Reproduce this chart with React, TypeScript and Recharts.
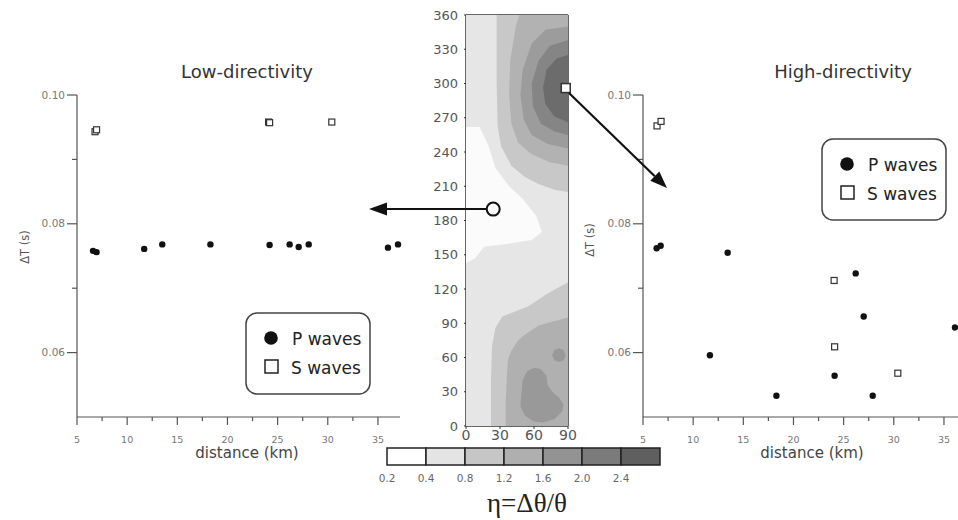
import React from "react";
import { Bar, BarChart, Scatter, ScatterChart, XAxis, YAxis } from "recharts";

// ---- scatter panels: [distance km, ΔT s]
const lowP = [
  [6.6, 0.0758], [6.95, 0.0756], [11.7, 0.0761], [13.5, 0.0768], [18.3, 0.0768],
  [24.2, 0.0767], [26.2, 0.0768], [27.1, 0.0764], [28.1, 0.0768], [36.0, 0.0763], [37.0, 0.0768],
];
const lowS = [[6.8, 0.0943], [6.95, 0.0946], [24.1, 0.0958], [24.2, 0.0957], [30.4, 0.0958]];
const highP = [
  [6.36, 0.0762], [6.76, 0.0766], [11.67, 0.0596], [13.44, 0.0755], [18.3, 0.0533],
  [24.1, 0.0564], [26.2, 0.0723], [27.0, 0.0656], [27.9, 0.0533], [36.1, 0.0639],
];
const highS = [[6.4, 0.0952], [6.8, 0.0959], [24.05, 0.0712], [24.1, 0.0609], [30.4, 0.0568]];

const distanceTicks = [5, 7.5, 10, 12.5, 15, 17.5, 20, 22.5, 25, 27.5, 30, 32.5, 35];
const dtTicks = [0.06, 0.07, 0.08, 0.09, 0.1];

// ---- contour map: [rake-ish angle 0..90, azimuth 0..360]
const bgLevel = [[-5, -10], [95, -10], [95, 370], [-5, 370]];
const whiteBay = [
  [-5, 262], [12, 262], [20, 245], [26, 226], [38, 210], [50, 199], [62, 184], [67, 170],
  [58, 163], [40, 160], [16, 157], [8, 147], [-5, 140],
];
const upRing1 = [[27, 370], [27, 300], [28, 262], [31, 245], [40, 228], [52, 218], [64, 212], [78, 207], [90, 205], [100, 205], [100, 370]];
const upRing2 = [[50, 370], [44, 350], [39, 320], [38, 290], [40, 265], [46, 248], [58, 238], [74, 231], [90, 228], [100, 228], [100, 370]];
const upRing3 = [[90, 350], [70, 347], [58, 335], [50, 312], [48, 290], [51, 268], [58, 255], [72, 247], [90, 243], [100, 243], [100, 350]];
const upRing4 = [[90, 338], [74, 333], [64, 320], [58, 300], [59, 280], [66, 265], [78, 258], [90, 255], [100, 255], [100, 338]];
const upCore = [[90, 325], [80, 322], [71, 312], [68, 296], [70, 282], [78, 271], [90, 266], [100, 266], [100, 325]];
const lowRing1 = [[100, 128], [90, 126], [72, 116], [55, 105], [40, 99], [32, 96], [26, 86], [23, 70], [22, 40], [22, -10], [100, -10]];
const lowRing2 = [[100, 96], [90, 95], [75, 91], [64, 88], [52, 80], [46, 75], [40, 66], [37, 58], [36, 43], [35, 20], [35, -10], [100, -10]];
const lowBlob = [[60, 51], [54, 48], [50, 40], [49, 30], [48, 17], [52, 9], [60, 4], [68, 3], [78, 6], [85, 13], [86, 19], [82, 25], [76, 30], [72, 36], [71, 44], [66, 50]];
const lowSpot = [[82, 68], [86, 66.5], [88, 62], [86, 57.5], [82, 56], [78, 57.5], [76, 62], [78, 66.5]];
const lowCase = [[24, 190]];
const highCase = [[88, 296]];
const angleTicks = [0, 30, 60, 90];
const azimuthTicks = [0, 30, 60, 90, 120, 150, 180, 210, 240, 270, 300, 330, 360];

// ---- colour bar
const etaLabels = ["0.2", "0.4", "0.8", "1.2", "1.6", "2.0", "2.4"];
const etaColors = ["#ffffff", "#e4e4e4", "#c6c6c6", "#afafaf", "#939393", "#7b7b7b", "#5f5f5f"];

const pts = (arr: number[][]) => arr.map(([x, y]) => ({ x, y }));

const contourBands = [
  { pts: bgLevel, fill: "#e6e6e6" },
  { pts: whiteBay, fill: "#fbfbfb" },
  { pts: upRing1, fill: "#c8c8c8" },
  { pts: upRing2, fill: "#b2b2b2" },
  { pts: upRing3, fill: "#9c9c9c" },
  { pts: upRing4, fill: "#858585" },
  { pts: upCore, fill: "#6c6c6c" },
  { pts: lowRing1, fill: "#c8c8c8" },
  { pts: lowRing2, fill: "#b0b0b0" },
  { pts: lowBlob, fill: "#999999" },
  { pts: lowSpot, fill: "#999999" },
];

const noDot = () => <g />;

function DistTick(props: any) {
  const { x, y, payload } = props;
  const v = payload.value;
  const major = v % 5 === 0;
  return (
    <g>
      <line x1={x} x2={x} y1={y} y2={y + (major ? 8 : 4)} stroke="#555" strokeWidth={1.2} />
      {major && (
        <text x={x} y={y + 26} textAnchor="middle" fontSize={9.5} fill="#777">
          {v}
        </text>
      )}
    </g>
  );
}

function DtTick(props: any) {
  const { x, y, payload } = props;
  const v = payload.value;
  const major = Math.round(v * 100) % 2 === 0;
  return (
    <g>
      <line x1={x - (major ? 10 : 5)} x2={x} y1={y} y2={y} stroke="#555" strokeWidth={1.2} />
      {major && (
        <text x={x - 12} y={y} dy={3.5} textAnchor="end" fontSize={10.5} fill="#777">
          {v.toFixed(2)}
        </text>
      )}
    </g>
  );
}

function DirectivityPanel({ left, width, marginLeft, marginRight, xMax, p, s }: any) {
  return (
    <div style={{ position: "absolute", left, top: 0 }}>
      <ScatterChart
        width={width}
        height={480}
        margin={{ top: 95, right: marginRight, bottom: 23, left: marginLeft }}
      >
        <XAxis
          type="number"
          dataKey="x"
          domain={[5, xMax]}
          ticks={distanceTicks}
          interval={0}
          height={40}
          tickSize={0}
          tickMargin={0}
          tickLine={false}
          tick={DistTick}
          axisLine={{ stroke: "#555", strokeWidth: 1.2 }}
        />
        <YAxis
          type="number"
          dataKey="y"
          domain={[0.05, 0.1]}
          ticks={dtTicks}
          interval={0}
          width={40}
          tickSize={0}
          tickMargin={0}
          tickLine={false}
          tick={DtTick}
          axisLine={{ stroke: "#555", strokeWidth: 1.2 }}
        />
        <Scatter
          data={pts(s)}
          isAnimationActive={false}
          shape={(d: any) => (
            <rect x={d.cx - 3} y={d.cy - 3} width={6} height={6} fill="#fff" stroke="#333" strokeWidth={1.2} />
          )}
        />
        <Scatter
          data={pts(p)}
          isAnimationActive={false}
          shape={(d: any) => <circle cx={d.cx} cy={d.cy} r={3.2} fill="#111" />}
        />
      </ScatterChart>
    </div>
  );
}

function ContourPanel() {
  return (
    <div style={{ position: "absolute", left: 420, top: 0 }}>
      <ScatterChart width={175} height={460} margin={{ top: 10, right: 17, bottom: 9, left: 6 }}>
        {contourBands.map((b, i) => (
          <Scatter
            key={i}
            xAxisId="b"
            yAxisId="l"
            data={pts(b.pts)}
            line={{ fill: b.fill, stroke: "none" }}
            lineType="joint"
            lineJointType="linearClosed"
            shape={noDot}
            isAnimationActive={false}
          />
        ))}
        <Scatter
          xAxisId="t"
          yAxisId="r"
          data={pts(lowCase)}
          isAnimationActive={false}
          shape={(d: any) => <circle cx={d.cx} cy={d.cy} r={6.5} fill="none" stroke="#111" strokeWidth={2} />}
        />
        <Scatter
          xAxisId="t"
          yAxisId="r"
          data={pts(highCase)}
          isAnimationActive={false}
          shape={(d: any) => (
            <rect x={d.cx - 4.5} y={d.cy - 4.5} width={9} height={9} fill="#fff" stroke="#333" strokeWidth={1.5} />
          )}
        />
        <XAxis
          xAxisId="b"
          type="number"
          dataKey="x"
          domain={[0, 90]}
          allowDataOverflow
          ticks={angleTicks}
          interval={0}
          height={25}
          tickSize={3}
          tickMargin={1}
          tick={{ fontSize: 14, fill: "#555" }}
          stroke="#333"
          axisLine={{ stroke: "#333", strokeWidth: 1.5 }}
        />
        <XAxis
          xAxisId="t"
          orientation="top"
          type="number"
          dataKey="x"
          domain={[0, 90]}
          height={5}
          tick={false}
          tickLine={false}
          axisLine={{ stroke: "#333", strokeWidth: 1.5 }}
        />
        <YAxis
          yAxisId="l"
          type="number"
          dataKey="y"
          domain={[0, 360]}
          allowDataOverflow
          ticks={azimuthTicks}
          interval={0}
          width={40}
          tickSize={2}
          tickMargin={6}
          tick={{ fontSize: 13, fill: "#555" }}
          stroke="#333"
          axisLine={{ stroke: "#333", strokeWidth: 1.5 }}
        />
        <YAxis
          yAxisId="r"
          orientation="right"
          type="number"
          dataKey="y"
          domain={[0, 360]}
          ticks={azimuthTicks}
          interval={0}
          width={10}
          tickSize={3}
          tick={false}
          stroke="#333"
          axisLine={{ stroke: "#333", strokeWidth: 1.5 }}
        />
      </ScatterChart>
    </div>
  );
}

const etaRow = [Object.fromEntries(etaColors.map((_, i) => [`s${i}`, 1]).concat([["name", "eta"]]))];

function ColourBar() {
  return (
    <div style={{ position: "absolute", left: 370, top: 440 }}>
      <BarChart
        width={310}
        height={50}
        layout="vertical"
        data={etaRow}
        barCategoryGap={0}
        margin={{ top: 8, right: 20, bottom: 0, left: 17 }}
      >
        <XAxis
          type="number"
          domain={[0, 7]}
          ticks={[0, 1, 2, 3, 4, 5, 6]}
          interval={0}
          height={25}
          axisLine={false}
          tickLine={false}
          tickMargin={4}
          tickFormatter={(v: number) => etaLabels[v]}
          tick={{ fontSize: 10.5, fill: "#666" }}
        />
        <YAxis type="category" dataKey="name" hide />
        {etaColors.map((c, i) => (
          <Bar key={i} dataKey={`s${i}`} stackId="eta" fill={c} stroke="#222" strokeWidth={1.5} isAnimationActive={false} />
        ))}
      </BarChart>
    </div>
  );
}

function Legend({ x, y }: { x: number; y: number }) {
  return (
    <g>
      <rect x={x} y={y} width={124} height={81} rx={11} fill="#fff" stroke="#444" strokeWidth={1.5} />
      <circle cx={x + 25} cy={y + 25} r={6.8} fill="#111" />
      <text x={x + 46} y={y + 32} fontSize={17} fill="#222">P waves</text>
      <rect x={x + 19} y={y + 47} width={13} height={13} fill="#fff" stroke="#222" strokeWidth={1.5} />
      <text x={x + 45} y={y + 61} fontSize={17} fill="#222">S waves</text>
    </g>
  );
}

function Overlay() {
  const a0 = { x: 569, y: 93 };
  const tip = { x: 667, y: 188 };
  const dx = tip.x - a0.x;
  const dy = tip.y - a0.y;
  const len = Math.hypot(dx, dy);
  const ux = dx / len;
  const uy = dy / len;
  const bx = tip.x - ux * 17;
  const by = tip.y - uy * 17;
  const head = `${tip.x},${tip.y} ${bx - uy * 6.5},${by + ux * 6.5} ${bx + uy * 6.5},${by - ux * 6.5}`;
  return (
    <svg width={958} height={520} style={{ position: "absolute", left: 0, top: 0, pointerEvents: "none" }}>
      <text x={247} y={78} textAnchor="middle" fontSize={18} fill="#333">Low-directivity</text>
      <text x={843} y={78} textAnchor="middle" fontSize={18} fill="#333">High-directivity</text>
      <text transform="translate(29,247) rotate(-90)" textAnchor="middle" fontSize={11.5} fill="#555">ΔT (s)</text>
      <text transform="translate(594,240) rotate(-90)" textAnchor="middle" fontSize={11.5} fill="#555">ΔT (s)</text>
      <text x={247} y={458} textAnchor="middle" fontSize={15} fill="#444">distance (km)</text>
      <text x={812} y={458} textAnchor="middle" fontSize={15} fill="#444">distance (km)</text>
      <Legend x={246} y={313} />
      <Legend x={822} y={139} />
      <line x1={386} y1={209} x2={486} y2={209} stroke="#111" strokeWidth={2.2} />
      <polygon points="369,209 387,202.5 387,215.5" fill="#111" />
      <line x1={a0.x} y1={a0.y} x2={bx} y2={by} stroke="#111" strokeWidth={2.2} />
      <polygon points={head} fill="#111" />
      <text x={527} y={512} textAnchor="middle" fontSize={27} fontFamily="'Liberation Serif', serif" fill="#222">
        η=Δθ/θ
      </text>
    </svg>
  );
}

export default function App() {
  return (
    <div
      style={{
        position: "absolute",
        left: 0,
        top: 0,
        width: 958,
        height: 520,
        background: "#fff",
        fontFamily: "'DejaVu Sans', sans-serif",
        overflow: "hidden",
      }}
    >
      <DirectivityPanel left={0} width={420} marginLeft={37} marginRight={20} xMax={37.2} p={lowP} s={lowS} />
      <DirectivityPanel left={580} width={378} marginLeft={23} marginRight={0} xMax={36.4} p={highP} s={highS} />
      <ContourPanel />
      <ColourBar />
      <Overlay />
    </div>
  );
}
